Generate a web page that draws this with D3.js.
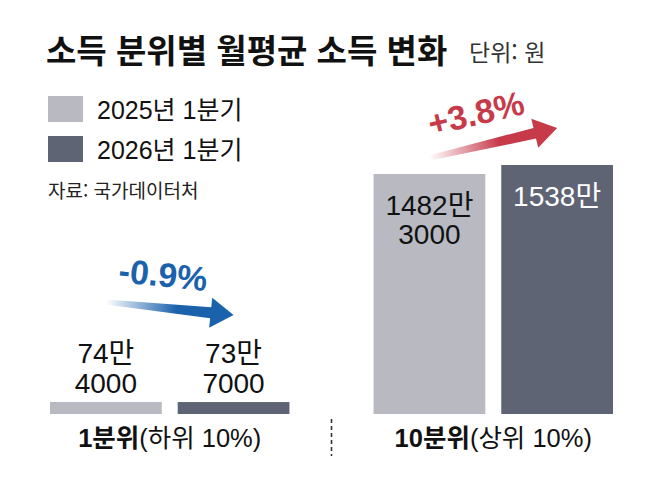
<!DOCTYPE html>
<html lang="ko">
<head>
    <meta charset="UTF-8">
    <title>소득 분위별 월평균 소득 변화</title>
    <script src="https://d3js.org/d3.v7.min.js"></script>
    <style>
        body { margin: 0; background: #fff; }
        svg { display: block; }
        text { font-family: "Liberation Sans", "Noto Sans CJK KR", sans-serif; }
        .kr { font-family: "Noto Sans CJK KR", sans-serif; }
    </style>
</head>
<body>
    <svg width="658" height="493"></svg>
    <script>
        // 데이터
        const groups = ["1분위", "10분위"];
        const groupNotes = ["(하위 10%)", "(상위 10%)"];
        const periods = ["2025년 1분기", "2026년 1분기"];
        const income2025 = [744000, 14823000];
        const income2026 = [737000, 15380000];

        const colors = ["#b8b9c1", "#5e6473"];
        const arrowColors = ["#1b62ad", "#c63a4a"];

        const svg = d3.select("svg");

        // 제목
        svg.append("text")
            .attr("class", "kr")
            .attr("x", 46).attr("y", 63)
            .attr("font-size", 33).attr("font-weight", 700)
            .attr("fill", "#111")
            .text("소득 분위별 월평균 소득 변화");

        svg.append("text")
            .attr("class", "kr")
            .attr("x", 469).attr("y", 61)
            .attr("font-size", 23)
            .attr("fill", "#333")
            .text("단위: 원");

        // 범례
        const legend = svg.append("g");
        periods.forEach((p, i) => {
            legend.append("rect")
                .attr("x", 48).attr("y", 96 + i * 40)
                .attr("width", 35).attr("height", 26)
                .attr("fill", colors[i]);
            legend.append("text")
                .attr("x", 97).attr("y", 119 + i * 40)
                .attr("font-size", 25)
                .attr("fill", "#111")
                .text(p);
        });

        svg.append("text")
            .attr("class", "kr")
            .attr("x", 48).attr("y", 198)
            .attr("font-size", 19)
            .attr("fill", "#222")
            .text("자료: 국가데이터처");

        // 스케일
        const x0 = d3.scaleBand()
            .domain(groups)
            .range([50, 613])
            .paddingInner(0.26);

        const x1 = d3.scaleBand()
            .domain(periods)
            .range([0, x0.bandwidth()])
            .paddingInner(0.125);

        const y = d3.scaleLinear()
            .domain([0, d3.max(income2026.concat(income2025))])
            .range([414, 165]);

        const data = groups.map((g, i) => ({
            group: g,
            note: groupNotes[i],
            values: [
                { period: periods[0], value: income2025[i], idx: 0 },
                { period: periods[1], value: income2026[i], idx: 1 }
            ]
        }));

        // 막대
        const gGroups = svg.selectAll(".grp")
            .data(data)
            .enter().append("g")
            .attr("class", "grp")
            .attr("transform", d => `translate(${x0(d.group)},0)`);

        gGroups.selectAll("rect")
            .data(d => d.values)
            .enter().append("rect")
            .attr("x", d => x1(d.period))
            .attr("y", d => y(d.value))
            .attr("width", x1.bandwidth())
            .attr("height", d => y(0) - y(d.value))
            .attr("fill", d => colors[d.idx]);

        // 값 라벨 (만 단위)
        function labelLines(v) {
            const man = Math.floor(v / 10000);
            const rest = v % 10000;
            return rest > 0 ? [man + "만", String(rest)] : [man + "만"];
        }

        gGroups.each(function(d) {
            const g = d3.select(this);
            d.values.forEach(v => {
                const lines = labelLines(v.value);
                const top = y(v.value);
                const inside = (y(0) - top) > 60;
                const cx = x1(v.period) + x1.bandwidth() / 2;
                const t = g.append("text")
                    .attr("text-anchor", "middle")
                    .attr("font-size", 28)
                    .attr("fill", inside && v.idx === 1 ? "#fff" : "#111");
                lines.forEach((ln, k) => {
                    const yy = inside
                        ? top + 41 + k * 29
                        : top - 9 - (lines.length - 1 - k) * 30;
                    t.append("tspan")
                        .attr("x", cx)
                        .attr("y", yy)
                        .text(ln);
                });
            });
        });

        // 그룹 라벨
        const cat = svg.selectAll(".cat")
            .data(data)
            .enter().append("text")
            .attr("class", "cat")
            .attr("x", d => x0(d.group) + x0.bandwidth() / 2)
            .attr("y", 447)
            .attr("text-anchor", "middle")
            .attr("font-size", 25.5)
            .attr("fill", "#111");
        cat.append("tspan").attr("font-weight", 700).text(d => d.group);
        cat.append("tspan").text(d => d.note);

        // 구분 점선
        const midX = (x0(groups[0]) + x0.bandwidth() + x0(groups[1])) / 2;
        svg.append("line")
            .attr("x1", midX).attr("x2", midX)
            .attr("y1", 419).attr("y2", 456)
            .attr("stroke", "#333")
            .attr("stroke-width", 1.6)
            .attr("stroke-dasharray", "4,3");

        // 변화율 화살표
        const defs = svg.append("defs");
        const fmtPct = d3.format("+.1f");
        const arrowLift = [[100, 87], [16, 37]];

        data.forEach((d, i) => {
            const v0 = d.values[0], v1 = d.values[1];
            const sx = x0(d.group) + x1(v0.period) + x1.bandwidth() / 2;
            const ex = x0(d.group) + x1(v1.period) + x1.bandwidth() / 2;
            const sy = y(v0.value) - arrowLift[i][0];
            const ey = y(v1.value) - arrowLift[i][1];
            const L = Math.hypot(ex - sx, ey - sy);
            const ang = Math.atan2(ey - sy, ex - sx) * 180 / Math.PI;
            const col = arrowColors[i];

            const grad = defs.append("linearGradient")
                .attr("id", "ag" + i)
                .attr("gradientUnits", "userSpaceOnUse")
                .attr("x1", 0).attr("y1", 0)
                .attr("x2", L * 0.55).attr("y2", 0);
            grad.append("stop").attr("offset", 0).attr("stop-color", col).attr("stop-opacity", 0);
            grad.append("stop").attr("offset", 1).attr("stop-color", col).attr("stop-opacity", 1);

            const hl = 23, hw = 15, t0 = 5, t1 = 11;
            const g = svg.append("g")
                .attr("transform", `translate(${sx},${sy}) rotate(${ang})`);
            g.append("path")
                .attr("d", `M0,${-t0 / 2} L${L - hl},${-t1 / 2} L${L - hl},${-hw} L${L},0 L${L - hl},${hw} L${L - hl},${t1 / 2} L0,${t0 / 2} Z`)
                .attr("fill", `url(#ag${i})`);

            const pct = (v1.value - v0.value) / v0.value * 100;
            g.append("text")
                .attr("x", L / 2 - 10)
                .attr("y", -33)
                .attr("dy", "0.35em")
                .attr("text-anchor", "middle")
                .attr("font-size", 34)
                .attr("font-weight", 700)
                .attr("fill", col)
                .text((pct < 0 ? "-" + Math.abs(pct).toFixed(1) : fmtPct(pct)) + "%");
        });
    </script>
</body>
</html>
